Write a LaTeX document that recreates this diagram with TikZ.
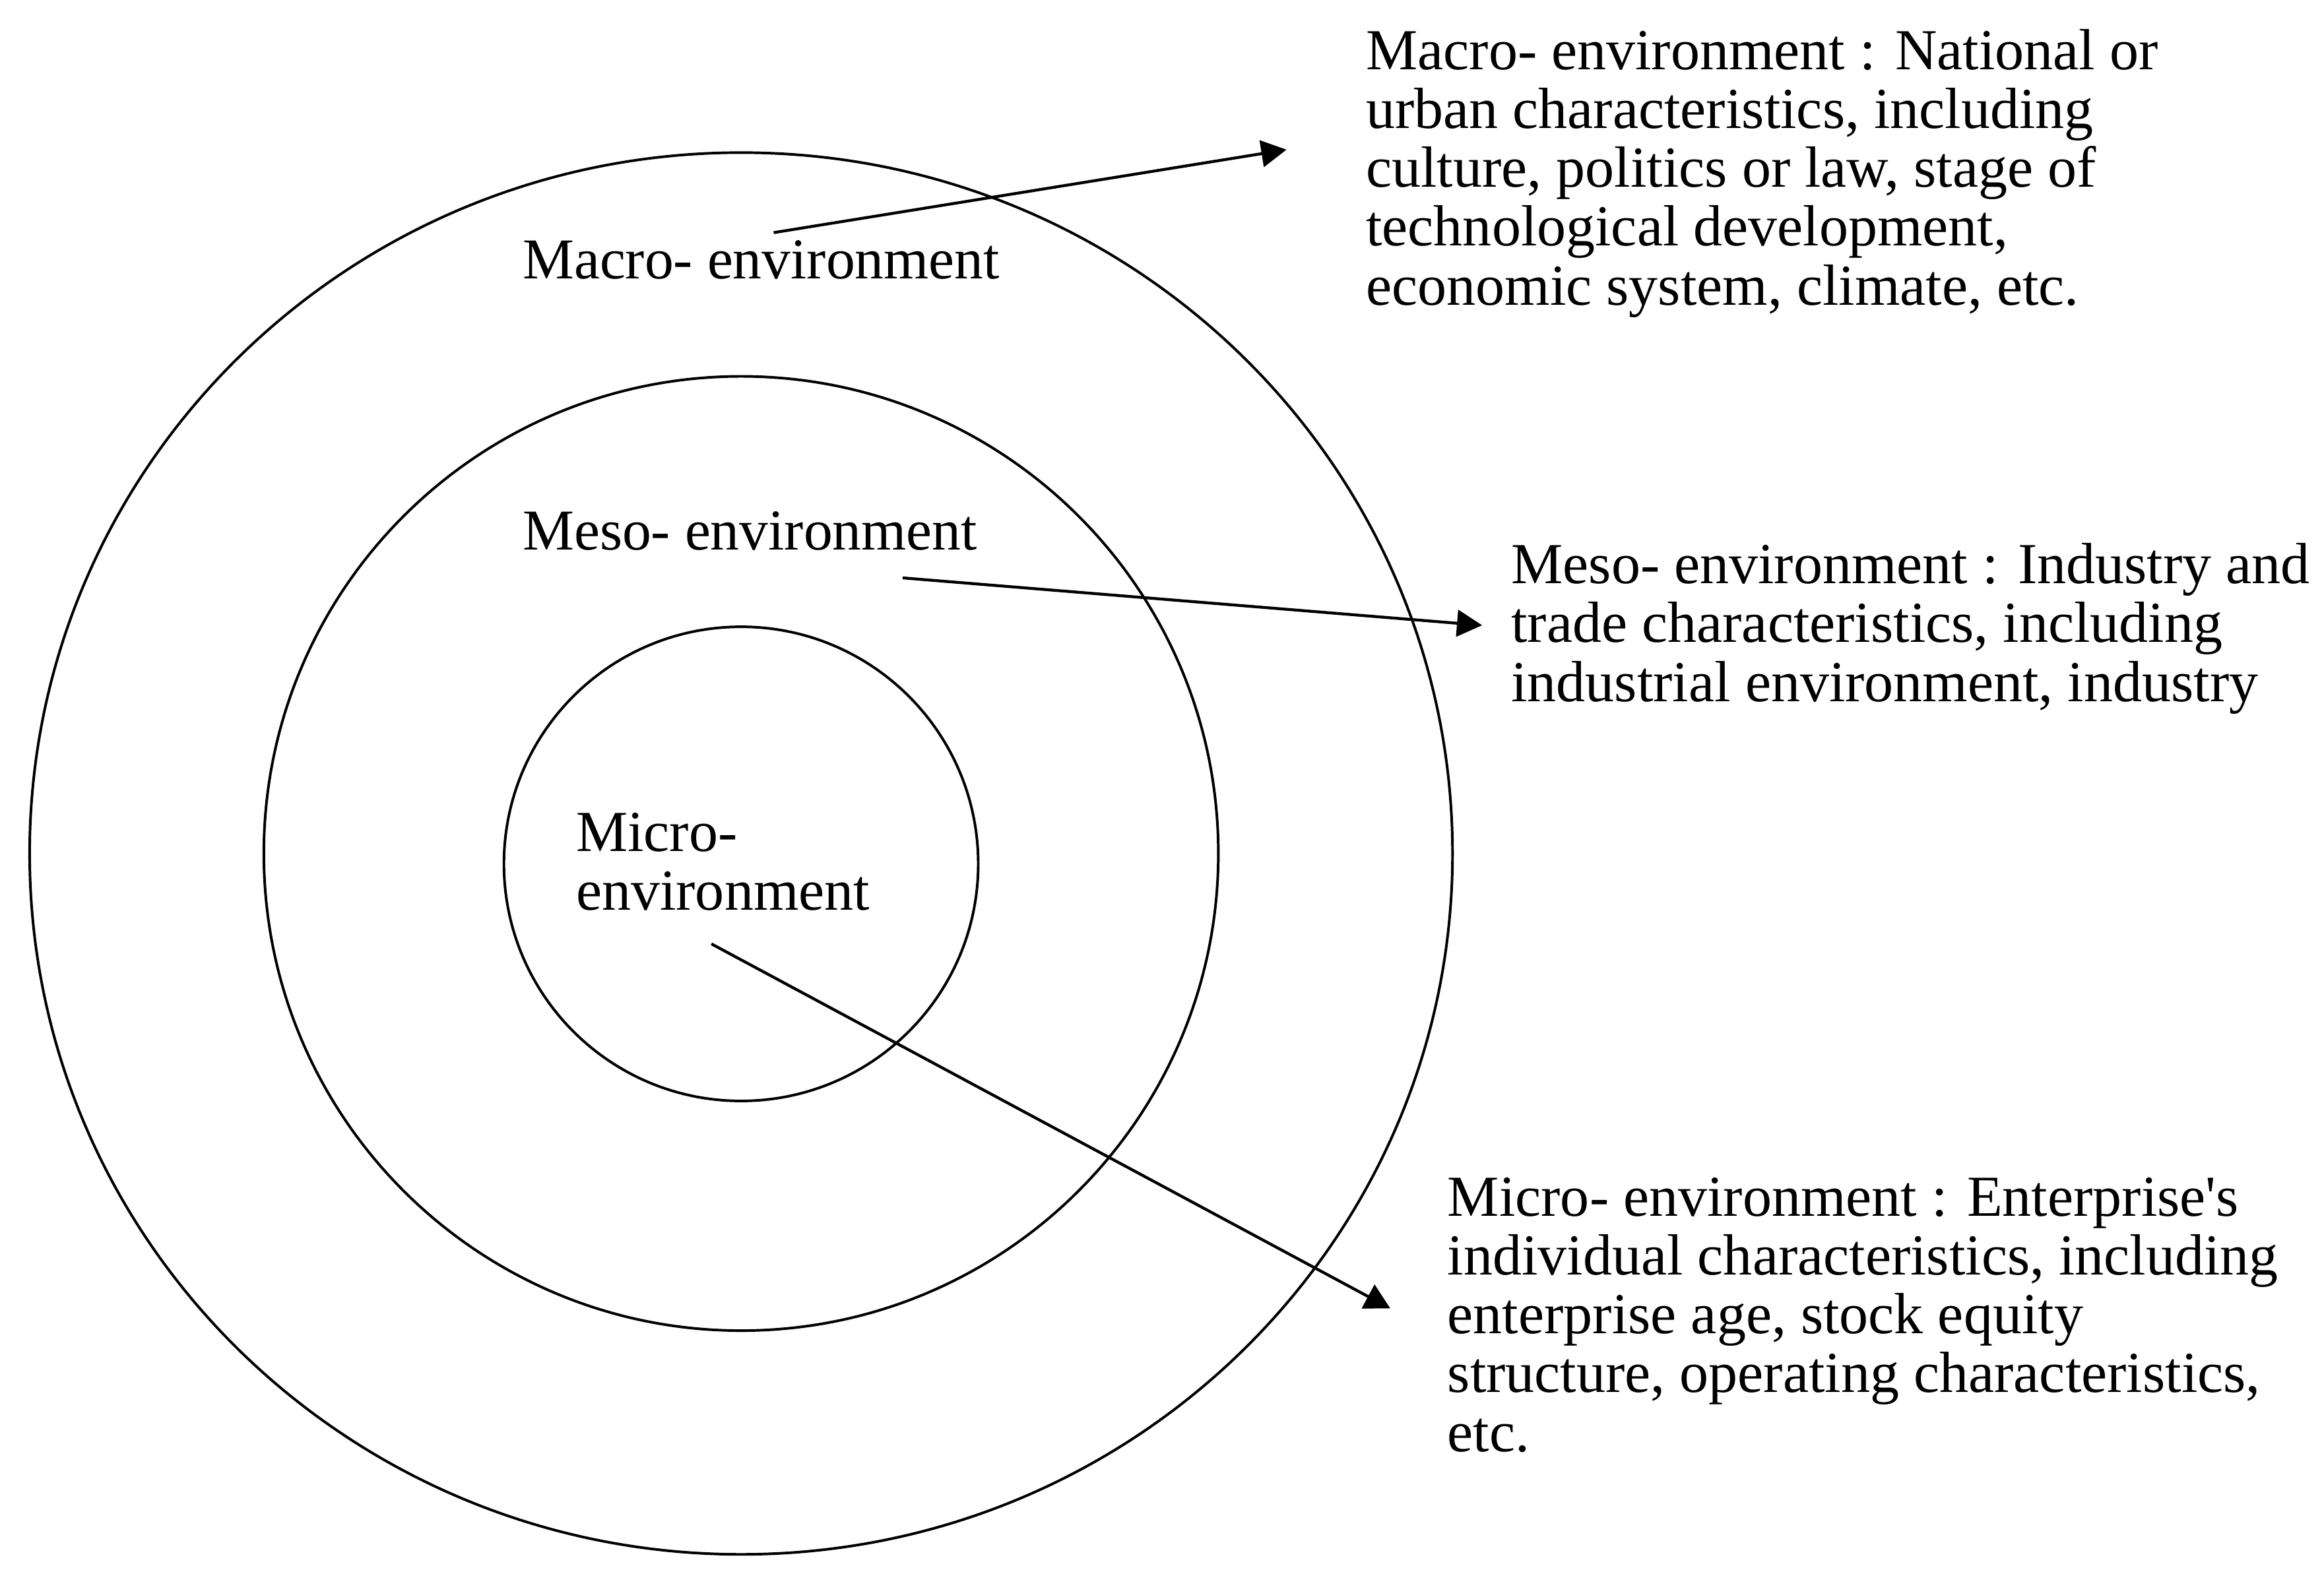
\documentclass[tikz,border=0pt]{standalone}
\usepackage{fontspec}
\setmainfont{Liberation Serif}
\usetikzlibrary{arrows.meta}

\begin{document}
\begin{tikzpicture}[
  ring/.style={line width=0.5pt},
  pointer/.style={line width=0.55pt,-{Triangle[length=1.7mm,width=1.8mm]}},
  ringtext/.style={inner sep=0pt,anchor=base west,font=\fontsize{11.1}{11.3}\selectfont},
  note/.style={inner sep=0pt,anchor=north west,align=left,font=\fontsize{11.15}{11.3}\selectfont}
]
\useasboundingbox (0,0) rectangle (15.68,10.62);
\draw[ring] (5,4.86) ellipse (4.80 and 4.73);
\draw[ring] (5,4.86) circle (3.22);
\draw[ring] (5,4.79) circle (1.60);

\node[ringtext] (macro) at (3.52,8.74) {Macro- environment};
\node[ringtext] (meso) at (3.52,6.91) {Meso- environment};
\node[note] (micro) at (3.88,5.14) {Micro-\\environment};

\node[note] (macrotext) at (9.21,10.43) {Macro- environment : National or\\urban characteristics, including\\culture, politics or law, stage of\\technological development,\\economic system, climate, etc.};
\node[note] (mesotext) at (10.19,6.96) {Meso- environment : Industry and\\trade characteristics, including\\industrial environment, industry};
\node[note] (microtext) at (9.76,2.68) {Micro- environment : Enterprise\textquotesingle s\\individual characteristics, including\\enterprise age, stock equity\\structure, operating characteristics,\\etc.};

\coordinate (macrofrom) at (5.22,9.05);
\coordinate (macroto) at (8.68,9.61);
\coordinate (mesofrom) at (6.09,6.72);
\coordinate (mesoto) at (10.00,6.40);
\coordinate (microfrom) at (4.80,4.25);
\coordinate (microto) at (9.38,1.79);
\draw[pointer] (macrofrom) -- (macroto);
\draw[pointer] (mesofrom) -- (mesoto);
\draw[pointer] (microfrom) -- (microto);
\end{tikzpicture}
\end{document}
